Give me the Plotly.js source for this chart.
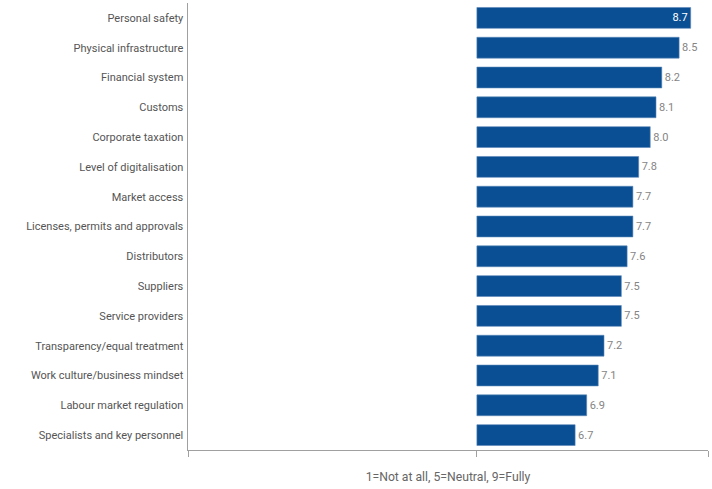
<!DOCTYPE html>
<html><head><meta charset="utf-8">
<script src="https://cdn.plot.ly/plotly-3.0.1.min.js"></script>
<style>html,body{margin:0;padding:0;background:#fff;}</style>
</head><body>
<div id="chart" style="width:712px;height:489px;"></div>
<script>
const categories = ["Personal safety","Physical infrastructure","Financial system","Customs","Corporate taxation","Level of digitalisation","Market access","Licenses, permits and approvals","Distributors","Suppliers","Service providers","Transparency/equal treatment","Work culture/business mindset","Labour market regulation","Specialists and key personnel"];
const values = [8.7,8.5,8.2,8.1,8.0,7.8,7.7,7.7,7.6,7.5,7.5,7.2,7.1,6.9,6.7];
const labels = ["8.7","8.5","8.2","8.1","8.0","7.8","7.7","7.7","7.6","7.5","7.5","7.2","7.1","6.9","6.7"];
const neutral = 5;

const trace = {
  type: 'bar', orientation: 'h',
  y: categories,
  x: values.map(v => v - neutral),
  base: neutral,
  text: labels,
  textposition: values.map((v,i) => i === 0 ? 'inside' : 'outside'),
  insidetextanchor: 'end',
  insidetextfont: {color: '#ffffff', size: 11, family: 'Roboto, sans-serif'},
  outsidetextfont: {color: '#858585', size: 11, family: 'Roboto, sans-serif'},
  cliponaxis: false,
  marker: {color: '#0a4f93', line: {color: '#5a86b8', width: 0.6}},
  width: 0.7,
  hoverinfo: 'skip'
};

const layout = {
  width: 712, height: 489,
  margin: {l: 188, r: 4, t: 3, b: 39},
  paper_bgcolor: '#ffffff', plot_bgcolor: '#ffffff',
  showlegend: false,
  font: {family: 'Roboto, sans-serif', color: '#555555', size: 11},
  xaxis: {
    range: [0, 9], showgrid: false, zeroline: false,
    showline: true, linecolor: '#a0a0a0', linewidth: 1.2,
    tickvals: [0, 5, 9], ticktext: ['', '', ''], ticks: 'outside', ticklen: 6, tickcolor: '#a0a0a0',
    title: {text: '1=Not at all, 5=Neutral, 9=Fully', font: {size: 12.2, color: '#666666'}, standoff: 14}
  },
  yaxis: {
    categoryorder: 'array', categoryarray: categories.slice().reverse(),
    autorange: false, range: [-0.5, 14.5],
    showgrid: false, zeroline: false,
    showline: true, linecolor: '#a0a0a0', linewidth: 1.5,
    ticks: '', ticklabelstandoff: 1,
    tickfont: {size: 11, color: '#555555'}
  },
  bargap: 0.3
};

Plotly.newPlot('chart', [trace], layout, {displayModeBar: false, staticPlot: true});
</script>
</body></html>
